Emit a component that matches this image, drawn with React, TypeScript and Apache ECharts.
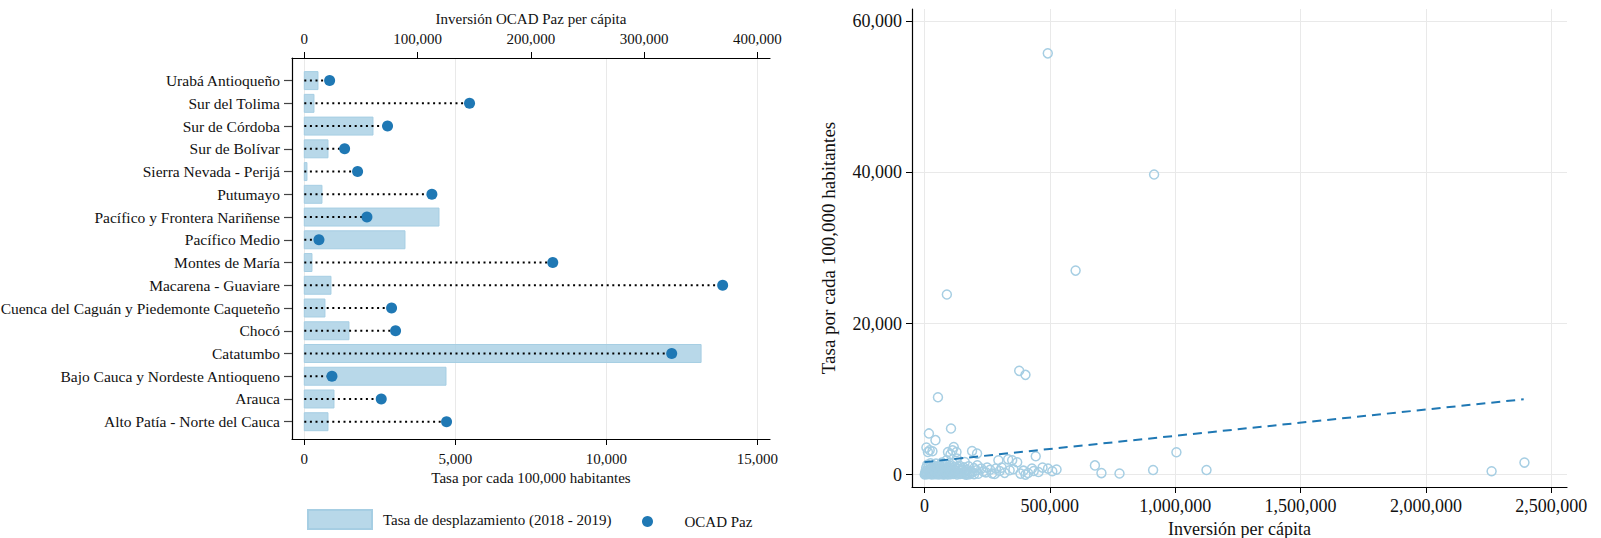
import { useEffect, useRef } from 'react';
import * as echarts from 'echarts';

// ---------- Left panel data ----------
const regions = [
  'Urabá Antioqueño',
  'Sur del Tolima',
  'Sur de Córdoba',
  'Sur de Bolívar',
  'Sierra Nevada - Perijá',
  'Putumayo',
  'Pacífico y Frontera Nariñense',
  'Pacífico Medio',
  'Montes de María',
  'Macarena - Guaviare',
  'Cuenca del Caguán y Piedemonte Caqueteño',
  'Chocó',
  'Catatumbo',
  'Bajo Cauca y Nordeste Antioqueno',
  'Arauca',
  'Alto Patía - Norte del Cauca',
];
const tasaDesplazamiento = [453, 320, 2274, 784, 88, 585, 4460, 3334, 254, 883, 684, 1479, 13138, 4692, 983, 784];
const inversionOcadPaz = [22350, 145900, 73500, 35600, 47060, 112650, 55300, 12940, 219400, 369400, 77060, 80590, 324400, 24410, 67940, 125600];
const rateTicks = [0, 5000, 10000, 15000];
const ocadTicks = [0, 100000, 200000, 300000, 400000];
const regionTicks = regions.map((_, i) => i);

// ---------- Right panel data ----------
const inversionPerCapita = [
  492000, 916000, 603000, 89500, 378000, 403000, 54000, 106000, 18000, 44000,
  8000, 21000, 32000, 14000, 117000, 112000, 94000, 128000, 104000, 190000,
  210000, 444000, 295000, 334000, 350000, 370000, 129000, 161000, 88000, 211000,
  250000, 285000, 308000, 340000, 383000, 429000, 436000, 471000, 493000, 527000,
  198000, 207000, 181000, 168000, 413000, 403000, 280000, 227000, 680000, 706000,
  778000, 912000, 1005000, 1125000, 2262000, 2393000,
  1000, 3000, 4000, 6000, 7000, 9000, 11000, 12000, 14000, 16000,
  17000, 19000, 21000, 23000, 24000, 26000, 27000, 29000, 31000, 33000,
  34000, 36000, 37000, 39000, 41000, 43000, 45000, 46000, 48000, 50000,
  51000, 53000, 55000, 57000, 58000, 60000, 62000, 63000, 65000, 67000,
  68000, 70000, 72000, 73000, 75000, 77000, 78000, 80000, 82000, 84000,
  85000, 87000, 89000, 91000, 93000, 95000, 96000, 98000, 100000, 102000,
  104000, 106000, 108000, 110000, 113000, 115000, 118000, 120000, 122000, 125000,
  127000, 130000, 133000, 136000, 139000, 142000, 145000, 148000, 152000, 156000,
  160000, 164000, 168000, 172000, 176000, 180000, 186000, 192000, 198000, 215000,
  235000, 245000, 262000, 270000, 300000, 320000, 355000, 395000, 455000, 510000,
];
const tasaPorHabitantes = [
  55760, 39730, 27000, 23840, 13730, 13200, 10240, 6100, 5450, 4560,
  3575, 3220, 3090, 2990, 3660, 3220, 2990, 2990, 2690, 3130,
  2780, 2420, 1890, 2020, 1890, 1630, 2120, 1670, 1890, 1230,
  925, 795, 925, 570, 130, 795, 480, 925, 795, 660,
  40, 570, 345, 0, 210, 0, 80, 795, 1220, 200,
  150, 600, 2950, 600, 440, 1590,
  20, 150, 420, 80, 900, 250, 1300, 40, 600, 180,
  1050, 330, 70, 780, 1500, 210, 480, 20, 950, 300,
  120, 650, 1200, 50, 400, 820, 190, 1450, 60, 560,
  280, 1000, 130, 720, 10, 380, 1250, 230, 880, 90,
  500, 1600, 150, 680, 30, 420, 1100, 260, 60, 780,
  340, 1350, 120, 590, 20, 950, 300, 160, 700, 1150,
  50, 450, 850, 200, 1500, 80, 620, 330, 1000, 140,
  540, 10, 800, 260, 1200, 90, 470, 700, 180, 950,
  40, 380, 620, 200, 1100, 60, 450, 280, 850, 120,
  420, 300, 650, 150, 480, 230, 700, 520, 350, 450,
];
const fitInversion = [0, 2390000];
const fitTasa = [1650, 9970];
const xTicksRight = [0, 500000, 1000000, 1500000, 2000000, 2500000];
const yTicksRight = [0, 20000, 40000, 60000];

const FONT = 'Liberation Serif';
const fmt = (v: number) => Number(v).toLocaleString('en-US');
const gridLine = { show: true, lineStyle: { color: '#e9e9e9', width: 1 } };
const axisLineStyle = { show: true, onZero: false, lineStyle: { color: '#000', width: 1.2 } };

export default function App() {
  const ref = useRef<HTMLDivElement>(null);
  useEffect(() => {
    if (!ref.current) return;
    const chart = echarts.init(ref.current, undefined, { renderer: 'svg' });
    const option: any = {
      animation: false,
      backgroundColor: '#fff',
      textStyle: { fontFamily: FONT, color: '#111' },
      grid: [
        { left: 292, right: 831, top: 58, bottom: 99, outerBoundsMode: 'none', containLabel: false },
        { left: 912, right: 34, top: 9, bottom: 51, outerBoundsMode: 'none', containLabel: false },
      ],
      legend: [
        {
          data: [{ name: 'Tasa de desplazamiento (2018 - 2019)', icon: 'rect' }],
          left: 307, top: 509, padding: 0, itemWidth: 64, itemHeight: 19,
          textStyle: { fontFamily: FONT, fontSize: 15, color: '#111', padding: [0, 0, 0, 6] },
        },
        {
          data: [{ name: 'OCAD Paz', icon: 'circle' }],
          left: 642, top: 514, padding: 0, itemWidth: 64, itemHeight: 11,
          textStyle: { fontFamily: FONT, fontSize: 15, color: '#111' },
        },
      ],
      xAxis: [
        {
          type: 'value', gridIndex: 0, position: 'bottom', min: -407, max: 15420,
          name: 'Tasa por cada 100,000 habitantes', nameLocation: 'middle', nameGap: 31,
          nameTextStyle: { fontFamily: FONT, fontSize: 15, color: '#111' },
          axisLine: axisLineStyle,
          axisTick: { show: true, length: 6, customValues: rateTicks, lineStyle: { color: '#000' } },
          axisLabel: { customValues: rateTicks, formatter: fmt, margin: 12, fontSize: 15, fontFamily: FONT, color: '#111' },
          splitLine: gridLine,
        },
        {
          type: 'value', gridIndex: 0, position: 'top', min: -10860, max: 411200,
          name: 'Inversión OCAD Paz per cápita', nameLocation: 'middle', nameGap: 32,
          nameTextStyle: { fontFamily: FONT, fontSize: 15, color: '#111' },
          axisLine: axisLineStyle,
          axisTick: { show: true, length: 6, customValues: ocadTicks, lineStyle: { color: '#000' } },
          axisLabel: { customValues: ocadTicks, formatter: fmt, margin: 12, fontSize: 15, fontFamily: FONT, color: '#111' },
          splitLine: { show: false },
        },
        {
          type: 'value', gridIndex: 1, position: 'bottom', min: -49500, max: 2562700,
          name: 'Inversión per cápita', nameLocation: 'middle', nameGap: 28,
          nameTextStyle: { fontFamily: FONT, fontSize: 18, color: '#111' },
          axisLine: axisLineStyle,
          axisTick: { show: true, length: 6, customValues: xTicksRight, lineStyle: { color: '#000' } },
          axisLabel: { customValues: xTicksRight, formatter: fmt, margin: 10, fontSize: 18, fontFamily: FONT, color: '#111' },
          splitLine: gridLine,
        },
      ],
      yAxis: [
        {
          type: 'value', gridIndex: 0, inverse: true, min: -0.994, max: 15.76,
          axisLine: axisLineStyle,
          axisTick: { show: true, length: 8, customValues: regionTicks, lineStyle: { color: '#444', width: 1.2 } },
          axisLabel: {
            customValues: regionTicks, formatter: (v: number) => regions[Math.round(v)] ?? '',
            margin: 12, fontSize: 15.5, fontFamily: FONT, color: '#111',
          },
          splitLine: { show: false },
        },
        {
          type: 'value', gridIndex: 1, min: -1642, max: 61630,
          name: 'Tasa por cada 100,000 habitantes', nameLocation: 'middle', nameGap: 74, nameRotate: 90,
          nameTextStyle: { fontFamily: FONT, fontSize: 19, color: '#111' },
          axisLine: axisLineStyle,
          axisTick: { show: true, length: 6, customValues: yTicksRight, lineStyle: { color: '#000' } },
          axisLabel: { customValues: yTicksRight, formatter: fmt, margin: 10, fontSize: 18, fontFamily: FONT, color: '#111' },
          splitLine: gridLine,
        },
      ],
      series: [
        {
          name: 'Tasa de desplazamiento (2018 - 2019)',
          type: 'custom', xAxisIndex: 0, yAxisIndex: 0,
          itemStyle: { color: 'rgba(166,206,227,0.8)', borderColor: '#a6cee3', borderWidth: 1 },
          encode: { x: 0, y: 1 },
          data: regions.map((_, i) => [tasaDesplazamiento[i], i]),
          renderItem: (params: any, api: any) => {
            const v = api.value(0);
            const i = api.value(1);
            const s = api.coord([0, i]);
            const e = api.coord([v, i]);
            const h = api.size([0, 1])[1] * 0.79;
            return {
              type: 'rect',
              shape: { x: s[0], y: s[1] - h / 2, width: e[0] - s[0], height: h },
              style: { fill: 'rgba(166,206,227,0.8)', stroke: '#a6cee3', lineWidth: 1 },
            };
          },
          z: 2,
        },
        {
          name: 'stems',
          type: 'custom', xAxisIndex: 1, yAxisIndex: 0, silent: true,
          encode: { x: 0, y: 1 },
          data: regions.map((_, i) => [inversionOcadPaz[i], i]),
          renderItem: (params: any, api: any) => {
            const v = api.value(0);
            const i = api.value(1);
            const s = api.coord([0, i]);
            const e = api.coord([v, i]);
            return {
              type: 'line',
              shape: { x1: s[0], y1: s[1], x2: e[0], y2: e[1] },
              style: { stroke: '#000', lineWidth: 2, lineDash: [2, 3.6] },
            };
          },
          z: 3,
        },
        {
          name: 'OCAD Paz',
          type: 'scatter', xAxisIndex: 1, yAxisIndex: 0,
          symbol: 'circle', symbolSize: 11,
          itemStyle: { color: '#1f78b4', opacity: 1 },
          data: regions.map((_, i) => [inversionOcadPaz[i], i]),
          z: 4,
        },
        {
          name: 'Municipios',
          type: 'scatter', xAxisIndex: 2, yAxisIndex: 1,
          symbol: 'circle', symbolSize: 9,
          itemStyle: { color: 'rgba(255,255,255,0)', borderColor: '#a6cee3', borderWidth: 1.5, opacity: 1 },
          data: inversionPerCapita.map((x, i) => [x, tasaPorHabitantes[i]]),
          z: 2,
        },
        {
          name: 'Ajuste',
          type: 'line', xAxisIndex: 2, yAxisIndex: 1,
          symbol: 'none', silent: true,
          lineStyle: { color: '#1f78b4', width: 2, type: [9, 6] },
          data: fitInversion.map((x, i) => [x, fitTasa[i]]),
          z: 5,
        },
      ],
    };
    chart.setOption(option);
    return () => chart.dispose();
  }, []);
  return (
    <div
      ref={ref}
      style={{ position: 'fixed', left: 0, top: 0, width: 1601, height: 538, background: '#fff' }}
    />
  );
}
